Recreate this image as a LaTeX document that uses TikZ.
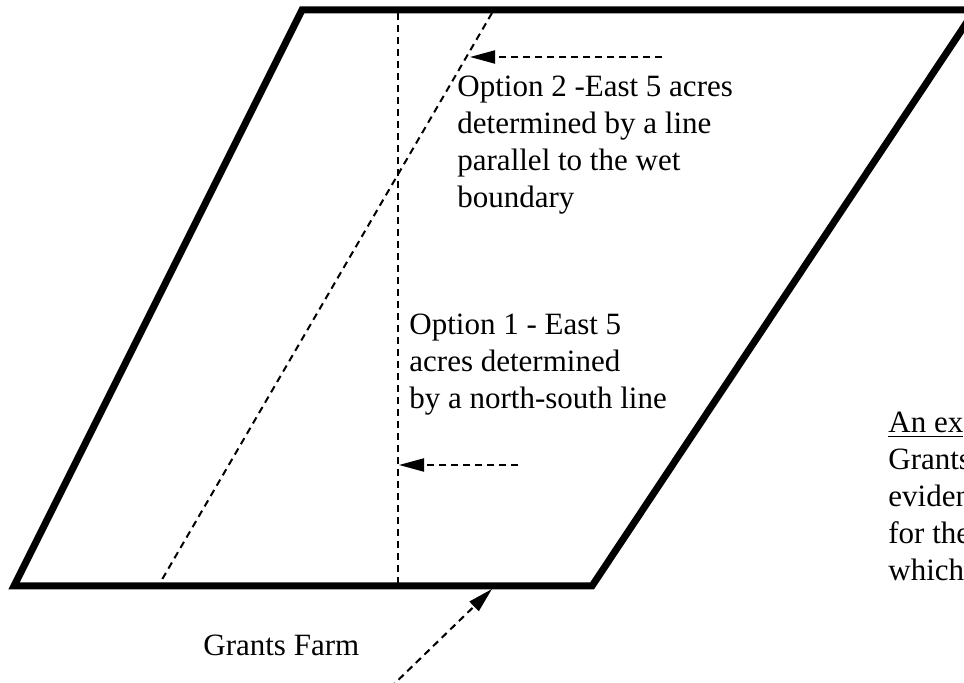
\documentclass[tikz,border=0pt]{standalone}
\usepackage{fontspec}
\setmainfont{Liberation Serif}
\usetikzlibrary{arrows.meta,positioning,calc}

\begin{document}
\begin{tikzpicture}[x=0.5pt,y=-0.5pt,>={Triangle[length=12.5pt,width=6.5pt]},
  font=\fontsize{15.5}{18.5}\selectfont,
  edge/.style={line width=3.5pt,line join=miter},
  guide/.style={line width=1pt,dash pattern=on 3.5pt off 2.5pt},
  ptr/.style={guide,->},
  lab/.style={align=left,inner sep=0pt,anchor=north west}]
\useasboundingbox (0,0) rectangle (964,683);
\clip (0,0) rectangle (964,683);
% farm outline
\coordinate (bl) at (14,586);
\coordinate (tl) at (302,10);
\coordinate (tr) at (975,10);
\coordinate (br) at (592,586);
\draw[edge] (bl) -- (tl) -- (tr) -- (br) -- cycle;
% option lines
\coordinate (nsTop) at (398,13);
\coordinate (nsBot) at (398,583);
\coordinate (parTop) at (492,13);
\coordinate (parBot) at (160,583);
\draw[guide] (nsTop) -- (nsBot);
\draw[guide] (parTop) -- (parBot);
% labels
\node[lab] (opt2) at (457,76) {Option 2 -East 5 acres\\determined by a line\\parallel to the wet\\boundary};
\node[lab] (opt1) at (409,314) {Option 1 - East 5\\acres determined\\by a north-south line};
\node[lab] (note) at (888,412) {\underline{An ex}\\Grants\\eviden\\for the\\which};
\node[lab,anchor=base west] (farm) at (203,655) {Grants Farm};
% pointers
\coordinate (p2tail) at (662,57);
\coordinate (p2tip) at (470,57);
\coordinate (p1tail) at (518,465);
\coordinate (p1tip) at (399,465);
\coordinate (pfTail) at (390,688);
\coordinate (pfTip) at (492,589);
\draw[ptr] (p2tail) -- (p2tip);
\draw[ptr] (p1tail) -- (p1tip);
\draw[ptr] (pfTail) -- (pfTip);
\end{tikzpicture}
\end{document}
